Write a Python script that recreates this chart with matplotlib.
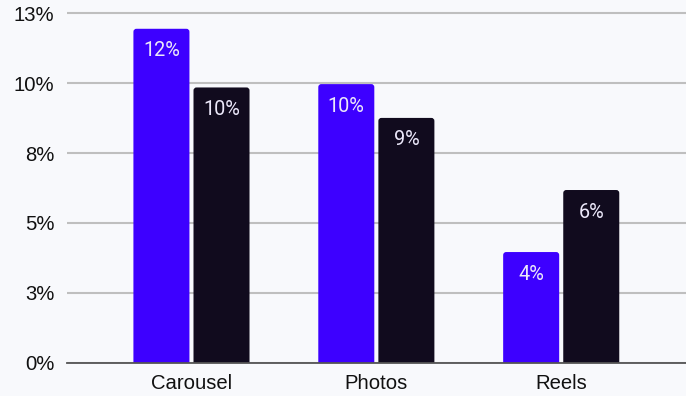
import matplotlib
matplotlib.use("Agg")
import matplotlib.pyplot as plt
from matplotlib.patches import FancyBboxPatch
import numpy as np

categories = ["Carousel", "Photos", "Reels"]
series_a = [11.95, 9.97, 3.96]
series_b = [9.85, 8.76, 6.18]
labels_a = ["12%", "10%", "4%"]
labels_b = ["10%", "9%", "6%"]
ytick_values = [0, 2.5, 5, 7.5, 10, 12.5]
ytick_labels = ["0%", "3%", "5%", "8%", "10%", "13%"]

BLUE = "#3D00FF"
DARK = "#110B1E"
BG = "#F8F9FC"

fig = plt.figure(figsize=(6.86, 3.96), dpi=100, facecolor=BG)
ax = fig.add_axes([0.0972, 0.0841, 0.9028, 0.9159], facecolor=BG)

XLIM = (-0.675, 2.675)
YLIM = (0, 12.98)
ax.set_xlim(*XLIM)
ax.set_ylim(*YLIM)

x = np.arange(len(categories))
w = 0.303
gap = 0.011
bars_a = ax.bar(x - w / 2 - gap, series_a, width=w, color=BLUE, zorder=3)
bars_b = ax.bar(x + w / 2 + gap, series_b, width=w, color=DARK, zorder=3)

# swap the square bars for ones with slightly rounded corners
ax_w_px = fig.get_figwidth() * fig.dpi * 0.9028
ax_h_px = fig.get_figheight() * fig.dpi * 0.9159
x_per_px = (XLIM[1] - XLIM[0]) / ax_w_px
y_per_px = (YLIM[1] - YLIM[0]) / ax_h_px
radius = 3 * x_per_px
aspect = y_per_px / x_per_px
for bars in (bars_a, bars_b):
    for b in bars:
        b.set_visible(False)
        drop = 4 * y_per_px
        patch = FancyBboxPatch((b.get_x(), -drop), b.get_width(), b.get_height() + drop,
                               boxstyle=f"round,pad=0,rounding_size={radius}",
                               mutation_aspect=aspect, facecolor=b.get_facecolor(),
                               edgecolor="none", zorder=3)
        ax.add_patch(patch)

for bars, labs in ((bars_a, labels_a), (bars_b, labels_b)):
    for b, t in zip(bars, labs):
        ax.annotate(t, (b.get_x() + b.get_width() / 2, b.get_height()),
                    xytext=(0, -22), textcoords="offset pixels",
                    ha="center", va="center", color="#ECE8FA",
                    fontsize=14.3, family="Roboto", zorder=4)

ax.set_yticks(ytick_values)
ax.set_yticklabels(ytick_labels)
ax.set_xticks(x)
ax.set_xticklabels(categories)
ax.tick_params(axis="both", length=0, labelsize=14.6, colors="#111111")
ax.tick_params(axis="y", pad=9)
ax.tick_params(axis="x", pad=8)
for lab in ax.get_xticklabels() + ax.get_yticklabels():
    lab.set_family("Liberation Sans")

ax.yaxis.grid(True, color="#BFBFBF", linewidth=1.5, zorder=0)
ax.set_axisbelow(True)
for s in ("top", "right", "left"):
    ax.spines[s].set_visible(False)
ax.spines["bottom"].set_color("#555555")
ax.spines["bottom"].set_linewidth(1.3)
ax.spines["bottom"].set_zorder(5)

fig.savefig("out.png", dpi=100, facecolor=BG)
